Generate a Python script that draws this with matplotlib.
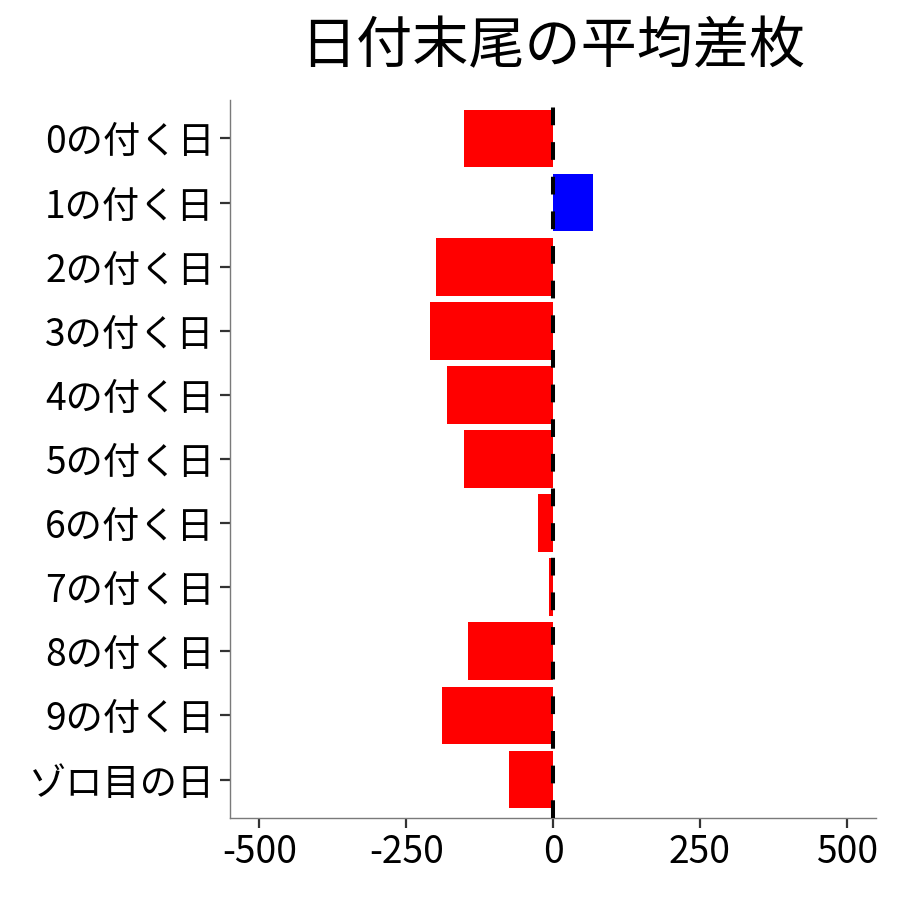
import matplotlib
matplotlib.use('Agg')
import matplotlib.pyplot as plt

plt.rcParams['font.family'] = ['Noto Sans CJK JP', 'DejaVu Sans']

# data
categories = ['0の付く日', '1の付く日', '2の付く日', '3の付く日', '4の付く日',
              '5の付く日', '6の付く日', '7の付く日', '8の付く日', '9の付く日', 'ゾロ目の日']
diff = [-151, 68, -199, -209, -180, -151, -26, -7, -145, -189, -75]
xticks = [-500, -250, 0, 250, 500]
title = '日付末尾の平均差枚'

fig = plt.figure(figsize=(9, 9), dpi=100)
ax = fig.add_axes([0.2556, 0.0911, 0.7177, 0.7978])

ypos = list(range(len(categories)))
colors = ['blue' if v > 0 else 'red' for v in diff]
ax.barh(ypos, diff, height=0.9, color=colors, zorder=2)
ax.axvline(0, color='black', lw=2.9, dashes=(4.4, 4.2), zorder=3)

ax.set_xlim(-550, 550)
ax.set_ylim(len(categories) - 0.4, -0.6)
ax.set_xticks(xticks)
ax.set_xticklabels([str(t) for t in xticks])
ax.set_yticks(ypos)
ax.set_yticklabels(categories)

for s in ['top', 'right']:
    ax.spines[s].set_visible(False)
for s in ['left', 'bottom']:
    ax.spines[s].set_color('#7a7a7a')
    ax.spines[s].set_linewidth(1.0)
ax.tick_params(axis='both', colors='#333333', labelcolor='black', length=7,
               width=1.6, labelsize=26.8, pad=4)

fig.text(0.6144, 0.947, title, ha='center', va='center', fontsize=40.4)

fig.savefig('out.png', dpi=100)
